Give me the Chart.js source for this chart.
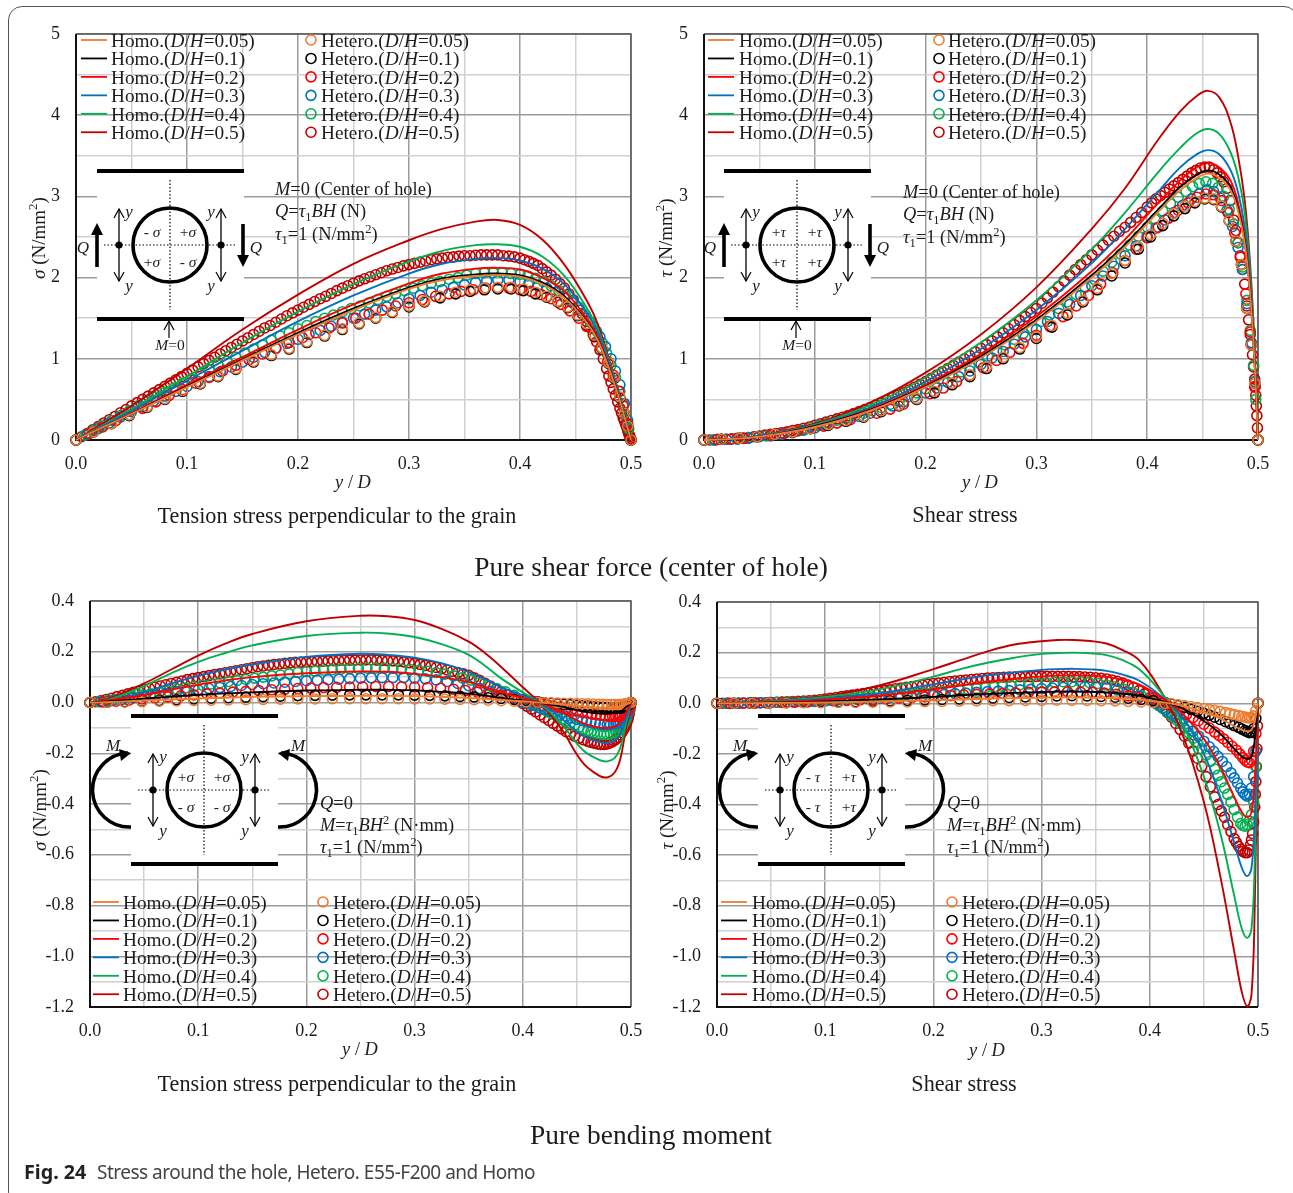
<!DOCTYPE html>
<html>
<head>
<meta charset="utf-8">
<title>Fig. 24</title>
<script src="https://cdn.jsdelivr.net/npm/chart.js@4/dist/chart.umd.js"></script>
<style>
html, body { margin: 0; padding: 0; background: #fff; }
#page { position: relative; width: 1293px; height: 1193px; overflow: hidden; }
#card { position: absolute; left: 8px; top: 6px; width: 1290px; height: 1200px; border: 1.4px solid #555; border-radius: 14px; box-sizing: border-box; }
canvas { position: absolute; }
#marks { position: absolute; left: 0; top: 0; }
.t { position: absolute; white-space: nowrap; font-family: "Liberation Serif", serif; color: #1c1c1c; line-height: 1; transform: translateY(-50%); }
.c { transform: translate(-50%, -50%); }
.r { transform: translate(-50%, -50%) rotate(-90deg); }
.t sub, .t sup { font-size: 68%; line-height: 0; }
</style>
</head>
<body>
<div id="page">
<div id="card"></div>
<canvas id="c1"></canvas>
<canvas id="c2"></canvas>
<canvas id="c3"></canvas>
<canvas id="c4"></canvas>
<svg id="marks" width="1293" height="1193" xmlns="http://www.w3.org/2000/svg"></svg>
</div>
<script>
var ratios = ['0.05', '0.1', '0.2', '0.3', '0.4', '0.5'];
var colors = ['#ED7D31', '#000000', '#FF0000', '#0070C0', '#00B050', '#C00000'];

// y/D stations of the hetero markers, the mesh gets finer with D/H
var xSparse = [0,.016,.032,.048,.064,.08,.096,.112,.128,.144,.16,.176,.192,.208,.224,.24,.255,.27,.285,.3,.314,.328,.342,.355,.368,.38,.392,.403,.414,.424,.434,.443,.452,.46,.467,.474,.48,.485,.49,.494,.497,.5];
var x02 = [0,.012,.024,.036,.048,.06,.072,.084,.096,.108,.12,.132,.144,.156,.168,.18,.192,.204,.216,.228,.24,.252,.264,.276,.288,.3,.312,.324,.336,.347,.358,.369,.38,.39,.4,.41,.419,.428,.437,.445,.453,.46,.467,.473,.479,.484,.489,.493,.497,.5];
var x03 = [0,.01,.02,.03,.04,.05,.06,.07,.08,.09,.1,.11,.12,.13,.14,.15,.16,.17,.18,.19,.2,.21,.22,.23,.24,.25,.26,.27,.28,.29,.3,.31,.32,.33,.34,.35,.36,.37,.38,.39,.4,.408,.416,.424,.432,.44,.447,.454,.46,.466,.472,.477,.482,.486,.49,.494,.497,.5];
var x04 = [0,.008,.016,.024,.032,.04,.048,.056,.064,.072,.08,.088,.096,.104,.112,.12,.128,.136,.144,.152,.16,.168,.176,.184,.192,.2,.208,.216,.224,.232,.24,.248,.256,.264,.272,.28,.288,.296,.304,.312,.32,.328,.336,.344,.352,.36,.368,.376,.384,.392,.4,.407,.414,.421,.428,.435,.441,.447,.453,.459,.464,.469,.474,.478,.482,.486,.49,.493,.496,.498,.5];
var x05 = [0,.005,.01,.015,.02,.025,.03,.035,.04,.045,.05,.055,.06,.065,.07,.075,.08,.085,.09,.095,.1,.105,.11,.115,.12,.125,.13,.135,.14,.145,.15,.155,.16,.165,.17,.175,.18,.185,.19,.195,.2,.205,.21,.215,.22,.225,.23,.235,.24,.245,.25,.255,.26,.265,.27,.275,.28,.285,.29,.295,.3,.305,.31,.315,.32,.325,.33,.335,.34,.345,.35,.355,.36,.365,.37,.375,.38,.385,.39,.395,.4,.404,.408,.412,.416,.42,.424,.428,.432,.436,.44,.444,.448,.452,.456,.46,.463,.466,.469,.472,.475,.478,.48,.482,.484,.486,.488,.49,.4915,.493,.494,.495,.496,.497,.4975,.498,.4985,.499,.4995,.5];
var heteroX = [xSparse, xSparse, x02, x03, x04, x05];
// moment plots: the tails towards y/D=0.5 are read more closely, they stand clear of each other there
var xSparseM = [0,.016,.032,.048,.064,.08,.096,.112,.128,.144,.16,.176,.192,.208,.224,.24,.255,.27,.285,.3,.314,.328,.342,.355,.368,.38,.392,.403,.414,.42,.426,.432,.438,.444,.45,.455,.46,.465,.47,.474,.478,.482,.485,.488,.49,.492,.494,.496,.498,.5];
var x02M = [0,.012,.024,.036,.048,.06,.072,.084,.096,.108,.12,.132,.144,.156,.168,.18,.192,.204,.216,.228,.24,.252,.264,.276,.288,.3,.312,.324,.336,.347,.358,.369,.38,.39,.4,.41,.416,.422,.428,.434,.44,.445,.45,.455,.46,.464,.468,.472,.476,.48,.483,.486,.488,.49,.492,.494,.496,.498,.5];
var x03M = [0,.01,.02,.03,.04,.05,.06,.07,.08,.09,.1,.11,.12,.13,.14,.15,.16,.17,.18,.19,.2,.21,.22,.23,.24,.25,.26,.27,.28,.29,.3,.31,.32,.33,.34,.35,.36,.37,.38,.39,.4,.405,.41,.415,.42,.425,.43,.435,.44,.445,.45,.455,.459,.463,.467,.471,.475,.478,.481,.484,.486,.488,.49,.492,.494,.496,.498,.5];
var x04M = [0,.008,.016,.024,.032,.04,.048,.056,.064,.072,.08,.088,.096,.104,.112,.12,.128,.136,.144,.152,.16,.168,.176,.184,.192,.2,.208,.216,.224,.232,.24,.248,.256,.264,.272,.28,.288,.296,.304,.312,.32,.328,.336,.344,.352,.36,.368,.376,.384,.392,.4,.404,.408,.412,.416,.42,.424,.428,.432,.436,.44,.444,.448,.452,.456,.46,.463,.466,.469,.472,.475,.478,.481,.484,.486,.488,.49,.492,.494,.496,.498,.5];
var heteroXM = [xSparseM, xSparseM, x02M, x03M, x04M, x05];

// --- shear force, sigma ---
var sigQx = [0,.02,.05,.1,.15,.2,.25,.3,.33,.36,.38,.4,.42,.44,.46,.47,.48,.49,.495,.5];
var sigQhomo005 = [0,.13,.32,.65,.98,1.3,1.6,1.86,1.97,2.02,2.03,2.01,1.92,1.75,1.45,1.23,.89,.48,.24,0];
var sigQhomo01 = [0,.13,.32,.66,.99,1.32,1.62,1.88,1.99,2.04,2.05,2.03,1.94,1.77,1.46,1.24,.9,.48,.24,0];
var sigQhomo02 = [0,.13,.33,.68,1.02,1.36,1.67,1.93,2.05,2.11,2.12,2.10,2.0,1.83,1.5,1.27,.92,.49,.25,0];
var sigQhomo03 = [0,.14,.36,.73,1.1,1.46,1.78,2.05,2.17,2.23,2.24,2.21,2.11,1.92,1.57,1.33,.96,.51,.26,0];
var sigQhomo04 = [0,.15,.38,.78,1.2,1.58,1.92,2.2,2.33,2.40,2.41,2.38,2.26,2.02,1.63,1.37,.98,.52,.27,0];
var sigQhomo05 = [0,.17,.42,.88,1.36,1.79,2.17,2.46,2.60,2.69,2.71,2.65,2.47,2.16,1.72,1.43,1.0,.53,.27,0];
var sigQhet005 = [0,.10,.20,.31,.41,.51,.61,.70,.79,.88,.97,1.05,1.13,1.21,1.29,1.37,1.44,1.51,1.58,1.65,1.71,1.77,1.82,1.85,1.87,1.88,1.88,1.86,1.82,1.77,1.71,1.64,1.54,1.43,1.29,1.13,.95,.77,.53,.33,.17,0];
var sigQhet01 = [0,.10,.20,.30,.40,.50,.60,.69,.78,.87,.96,1.04,1.12,1.20,1.28,1.36,1.43,1.50,1.57,1.64,1.70,1.75,1.80,1.83,1.85,1.86,1.86,1.84,1.80,1.76,1.70,1.63,1.53,1.42,1.28,1.12,.94,.76,.52,.33,.17,0];
var sigQhet02 = [0,.08,.16,.24,.31,.39,.47,.55,.62,.70,.77,.85,.92,.99,1.06,1.13,1.20,1.26,1.32,1.38,1.44,1.50,1.55,1.60,1.65,1.69,1.73,1.77,1.80,1.83,1.85,1.87,1.87,1.87,1.85,1.83,1.79,1.74,1.67,1.59,1.50,1.40,1.27,1.14,.97,.80,.60,.42,.20,0];
var sigQhet03 = [0,.07,.14,.21,.28,.35,.41,.48,.54,.60,.66,.72,.78,.84,.90,.96,1.02,1.08,1.13,1.19,1.24,1.30,1.35,1.40,1.45,1.50,1.55,1.60,1.64,1.69,1.74,1.78,1.82,1.85,1.88,1.91,1.94,1.96,1.97,1.97,1.95,1.93,1.90,1.87,1.82,1.76,1.69,1.60,1.50,1.40,1.27,1.15,1.00,.85,.68,.45,.24,0];
var sigQhet04 = [0,.06,.12,.18,.24,.30,.36,.42,.47,.53,.59,.64,.70,.75,.81,.86,.92,.97,1.02,1.07,1.12,1.17,1.23,1.28,1.32,1.37,1.41,1.46,1.50,1.54,1.58,1.62,1.65,1.69,1.73,1.77,1.80,1.84,1.87,1.90,1.93,1.95,1.98,2.00,2.03,2.05,2.06,2.06,2.06,2.05,2.04,2.02,1.99,1.95,1.90,1.84,1.78,1.71,1.63,1.54,1.45,1.34,1.20,1.07,.92,.77,.60,.44,.28,.14,0];
var sigQhet05 = [0,.04,.08,.125,.165,.21,.25,.29,.335,.375,.42,.46,.50,.54,.58,.62,.66,.70,.74,.78,.82,.86,.90,.94,.98,1.02,1.06,1.10,1.14,1.18,1.22,1.26,1.30,1.34,1.38,1.41,1.45,1.49,1.53,1.565,1.60,1.635,1.67,1.705,1.74,1.77,1.805,1.84,1.87,1.90,1.93,1.96,1.985,2.01,2.035,2.06,2.085,2.105,2.125,2.145,2.16,2.175,2.19,2.205,2.22,2.23,2.24,2.25,2.255,2.265,2.27,2.27,2.275,2.28,2.28,2.28,2.28,2.27,2.265,2.255,2.24,2.22,2.20,2.175,2.15,2.11,2.07,2.03,1.98,1.925,1.87,1.80,1.725,1.64,1.555,1.46,1.385,1.30,1.21,1.11,1.0,.88,.79,.71,.63,.55,.47,.39,.33,.27,.24,.20,.16,.12,.10,.08,.06,.04,.02,0];

// --- shear force, tau ---
var tauQx = [0,.02,.05,.1,.15,.2,.25,.3,.35,.38,.41,.43,.445,.455,.465,.475,.482,.488,.493,.497,.5];
var tauQhomo005 = [0,.01,.04,.16,.36,.65,1.01,1.46,2.0,2.38,2.81,3.08,3.23,3.28,3.23,3.08,2.82,2.42,1.78,.92,0];
var tauQhomo01 = [0,.01,.04,.17,.37,.66,1.03,1.48,2.03,2.41,2.84,3.12,3.27,3.32,3.27,3.12,2.85,2.45,1.8,.93,0];
var tauQhomo02 = [0,.01,.04,.17,.38,.68,1.06,1.52,2.08,2.47,2.92,3.2,3.36,3.41,3.36,3.2,2.92,2.5,1.85,.95,0];
var tauQhomo03 = [0,.01,.05,.18,.4,.72,1.12,1.6,2.18,2.6,3.06,3.36,3.52,3.57,3.52,3.33,3.05,2.62,1.95,1.0,0];
var tauQhomo04 = [0,.01,.05,.19,.43,.77,1.2,1.72,2.35,2.8,3.3,3.6,3.78,3.83,3.77,3.55,3.25,2.8,2.05,1.05,0];
var tauQhomo05 = [0,.01,.05,.2,.46,.83,1.3,1.88,2.6,3.1,3.7,4.05,4.24,4.30,4.22,3.92,3.5,2.95,2.15,1.1,0];
var tauQhet005 = [0,.01,.02,.04,.07,.10,.14,.19,.24,.29,.36,.43,.51,.60,.70,.80,.90,1.02,1.14,1.27,1.41,1.56,1.72,1.87,2.05,2.21,2.38,2.53,2.67,2.79,2.88,2.94,2.98,2.97,2.88,2.70,2.45,2.16,1.62,1.17,.70,0];
var tauQhet01 = [0,.01,.02,.04,.07,.10,.14,.18,.23,.28,.35,.42,.50,.58,.68,.78,.88,1.0,1.12,1.25,1.39,1.54,1.70,1.85,2.02,2.18,2.35,2.50,2.64,2.76,2.85,2.92,2.97,2.96,2.87,2.70,2.45,2.16,1.62,1.17,.70,0];
var tauQhet02 = [0,.01,.01,.02,.04,.06,.08,.11,.14,.17,.21,.25,.29,.33,.38,.44,.50,.57,.64,.72,.80,.89,.98,1.08,1.19,1.29,1.40,1.52,1.65,1.78,1.92,2.06,2.21,2.35,2.49,2.62,2.73,2.83,2.92,2.99,3.03,3.02,2.95,2.80,2.55,2.25,1.80,1.33,.65,0];
var tauQhet03 = [0,0,.01,.01,.02,.04,.05,.07,.09,.12,.15,.18,.21,.25,.29,.33,.37,.42,.47,.53,.58,.64,.71,.78,.85,.93,1.01,1.09,1.18,1.27,1.36,1.46,1.56,1.67,1.78,1.90,2.02,2.14,2.27,2.39,2.51,2.61,2.71,2.80,2.89,2.97,3.03,3.08,3.06,2.98,2.83,2.63,2.37,2.10,1.68,1.20,.72,0];
var tauQhet04 = [0,0,.01,.01,.02,.03,.04,.05,.07,.08,.10,.12,.15,.18,.21,.24,.27,.30,.33,.36,.40,.44,.48,.53,.58,.63,.68,.73,.78,.84,.90,.96,1.03,1.10,1.17,1.24,1.31,1.38,1.46,1.54,1.62,1.70,1.79,1.88,1.98,2.08,2.19,2.29,2.40,2.51,2.62,2.72,2.82,2.91,2.99,3.06,3.12,3.16,3.18,3.16,3.11,3.0,2.84,2.66,2.43,2.13,1.72,1.35,.92,.50,0];
var tauQhet05 = [0,0,0,.01,.01,.015,.02,.025,.03,.04,.05,.06,.07,.08,.09,.10,.115,.13,.145,.16,.18,.20,.22,.24,.26,.28,.30,.325,.35,.375,.40,.43,.46,.49,.52,.55,.58,.615,.65,.685,.72,.76,.80,.84,.88,.92,.96,1.00,1.04,1.085,1.13,1.175,1.22,1.27,1.32,1.37,1.42,1.47,1.52,1.57,1.62,1.685,1.75,1.82,1.89,1.96,2.03,2.10,2.16,2.22,2.28,2.34,2.40,2.46,2.51,2.57,2.62,2.68,2.74,2.80,2.87,2.92,2.97,3.01,3.05,3.09,3.13,3.17,3.21,3.25,3.29,3.32,3.35,3.36,3.36,3.33,3.29,3.24,3.18,3.10,2.95,2.71,2.58,2.43,2.27,2.10,1.92,1.65,1.48,1.30,1.18,1.05,.90,.75,.66,.55,.42,.30,.15,0];

// --- bending moment, sigma ---
var sigMx = [0,.02,.05,.075,.1,.125,.15,.2,.25,.275,.3,.325,.35,.365,.38,.4,.415,.435,.455,.47,.478,.485,.49,.495,.5];
var sigMhomo005 = [0,.002,.008,.012,.016,.019,.022,.025,.026,.026,.025,.022,.018,.014,.01,.005,0,-.007,-.016,-.02,-.02,-.019,-.016,-.009,0];
var sigMhomo01 = [0,.005,.015,.023,.03,.036,.04,.047,.05,.05,.048,.042,.035,.027,.018,.008,0,-.015,-.035,-.043,-.045,-.042,-.036,-.02,0];
var sigMhomo02 = [0,.01,.03,.05,.07,.087,.10,.115,.122,.121,.113,.1,.08,.06,.04,.018,0,-.035,-.08,-.098,-.10,-.095,-.08,-.045,0];
var sigMhomo03 = [0,.01,.04,.075,.105,.13,.15,.18,.192,.188,.177,.155,.12,.092,.06,.028,0,-.06,-.13,-.155,-.16,-.15,-.125,-.07,0];
var sigMhomo04 = [0,.015,.065,.115,.16,.195,.225,.262,.275,.272,.258,.23,.188,.145,.095,.04,0,-.08,-.185,-.225,-.232,-.218,-.18,-.09,0];
var sigMhomo05 = [0,.02,.075,.13,.185,.232,.27,.32,.342,.34,.325,.29,.24,.195,.14,.06,0,-.10,-.235,-.287,-.295,-.275,-.225,-.11,0];
var sigMhet005 = [0,0,.001,.003,.005,.006,.008,.009,.01,.011,.012,.013,.014,.014,.015,.015,.015,.015,.015,.014,.014,.013,.012,.011,.009,.007,.005,.003,.001,-.001,-.001,-.002,-.003,-.003,-.004,-.005,-.005,-.006,-.007,-.007,-.008,-.008,-.008,-.008,-.008,-.007,-.006,-.005,-.003,0];
var sigMhet01 = [0,.001,.003,.005,.008,.011,.014,.017,.019,.021,.023,.025,.027,.028,.029,.03,.03,.03,.03,.029,.028,.026,.024,.022,.019,.016,.012,.008,.003,-.001,-.003,-.005,-.007,-.009,-.011,-.013,-.014,-.016,-.018,-.019,-.02,-.021,-.022,-.022,-.021,-.02,-.018,-.014,-.008,0];
var sigMhet02 = [0,.002,.005,.009,.014,.018,.022,.026,.03,.034,.037,.041,.044,.047,.05,.052,.055,.057,.059,.06,.061,.062,.063,.063,.062,.061,.059,.056,.052,.047,.041,.034,.027,.02,.012,.004,-.001,-.007,-.013,-.019,-.025,-.03,-.034,-.038,-.042,-.045,-.048,-.05,-.052,-.054,-.055,-.055,-.054,-.052,-.049,-.044,-.036,-.022,0];
var sigMhet03 = [0,.003,.007,.012,.018,.024,.03,.035,.041,.046,.05,.055,.059,.063,.067,.071,.074,.077,.08,.083,.086,.088,.09,.092,.094,.096,.097,.098,.098,.098,.096,.093,.089,.083,.075,.066,.055,.043,.03,.015,.001,-.006,-.012,-.02,-.027,-.034,-.04,-.047,-.054,-.061,-.067,-.072,-.076,-.079,-.082,-.085,-.087,-.087,-.087,-.085,-.083,-.08,-.076,-.071,-.063,-.052,-.033,0];
var sigMhet04 = [0,.003,.007,.012,.017,.023,.029,.034,.04,.046,.052,.057,.063,.068,.073,.078,.083,.087,.091,.096,.10,.105,.109,.113,.118,.122,.124,.127,.129,.131,.133,.134,.135,.135,.135,.134,.132,.13,.127,.123,.118,.112,.105,.097,.088,.078,.067,.055,.042,.028,.012,.004,-.004,-.012,-.021,-.029,-.038,-.046,-.055,-.064,-.073,-.081,-.089,-.097,-.104,-.11,-.115,-.119,-.122,-.125,-.126,-.126,-.124,-.12,-.116,-.11,-.102,-.092,-.078,-.062,-.036,0];
var sigMhet05 = [0,.003,.007,.012,.017,.023,.028,.034,.04,.045,.05,.055,.06,.065,.07,.075,.08,.085,.09,.094,.098,.102,.106,.11,.113,.117,.121,.125,.129,.133,.137,.141,.144,.147,.15,.152,.154,.156,.158,.159,.16,.161,.162,.163,.164,.165,.166,.166,.167,.167,.168,.168,.168,.167,.166,.165,.164,.162,.16,.157,.154,.15,.146,.142,.138,.133,.128,.123,.118,.113,.107,.097,.087,.076,.065,.053,.042,.031,.02,.008,-.004,-.015,-.026,-.037,-.049,-.06,-.071,-.082,-.093,-.104,-.115,-.125,-.133,-.14,-.147,-.153,-.157,-.16,-.163,-.165,-.165,-.163,-.16,-.156,-.151,-.145,-.137,-.127,-.118,-.108,-.1,-.09,-.08,-.068,-.06,-.05,-.04,-.028,-.014,0];

// --- bending moment, tau ---
var tauMx = [0,.05,.1,.15,.2,.225,.25,.275,.3,.315,.33,.345,.36,.375,.39,.41,.43,.45,.465,.478,.485,.49,.494,.497,.5];
var tauMhomo005 = [0,.001,.003,.007,.012,.015,.018,.02,.022,.023,.023,.022,.021,.019,.015,.005,-.01,-.035,-.06,-.09,-.105,-.11,-.105,-.07,0];
var tauMhomo01 = [0,.002,.007,.015,.025,.031,.037,.041,.044,.046,.046,.045,.043,.038,.03,.01,-.02,-.07,-.12,-.18,-.21,-.22,-.21,-.145,0];
var tauMhomo02 = [0,.004,.014,.03,.055,.07,.085,.097,.106,.109,.11,.108,.104,.092,.075,.025,-.04,-.14,-.25,-.37,-.43,-.45,-.43,-.3,0];
var tauMhomo03 = [0,.005,.018,.04,.075,.093,.11,.122,.132,.135,.136,.134,.128,.113,.09,.03,-.055,-.2,-.37,-.55,-.65,-.683,-.65,-.45,0];
var tauMhomo04 = [0,.008,.025,.055,.105,.135,.16,.18,.195,.198,.2,.197,.19,.17,.135,.045,-.08,-.29,-.51,-.76,-.89,-.927,-.89,-.62,0];
var tauMhomo05 = [0,.01,.028,.07,.135,.17,.205,.232,.245,.25,.25,.246,.236,.21,.17,.05,-.12,-.39,-.68,-.98,-1.14,-1.197,-1.15,-.8,0];
var tauMhet005 = [0,0,0,.001,.001,.002,.002,.003,.003,.004,.005,.005,.006,.007,.008,.009,.01,.01,.011,.011,.012,.012,.011,.01,.009,.007,.005,.003,0,-.002,-.006,-.009,-.013,-.017,-.021,-.025,-.028,-.032,-.037,-.041,-.045,-.049,-.052,-.055,-.057,-.058,-.056,-.05,-.03,0];
var tauMhet01 = [0,0,.001,.001,.002,.003,.004,.005,.006,.008,.009,.011,.013,.015,.017,.019,.021,.023,.025,.027,.029,.03,.029,.027,.024,.02,.015,.01,.003,-.003,-.009,-.016,-.024,-.032,-.04,-.047,-.055,-.064,-.073,-.08,-.088,-.095,-.102,-.108,-.112,-.116,-.114,-.1,-.06,0];
var tauMhet02 = [0,0,0,.001,.002,.003,.004,.005,.007,.009,.011,.013,.015,.017,.02,.022,.025,.028,.03,.033,.035,.037,.039,.041,.043,.044,.045,.045,.044,.043,.04,.035,.029,.022,.014,.006,-.006,-.018,-.03,-.044,-.056,-.069,-.083,-.098,-.114,-.127,-.14,-.155,-.17,-.185,-.2,-.215,-.225,-.232,-.235,-.225,-.19,-.12,0];
var tauMhet03 = [0,0,.001,.001,.002,.003,.004,.005,.006,.007,.009,.011,.013,.015,.017,.019,.022,.024,.027,.03,.032,.035,.038,.04,.043,.046,.048,.05,.053,.055,.058,.06,.062,.064,.065,.064,.06,.053,.042,.028,.012,0,-.012,-.026,-.041,-.057,-.074,-.092,-.11,-.13,-.15,-.172,-.19,-.21,-.23,-.25,-.275,-.295,-.315,-.335,-.35,-.36,-.367,-.36,-.335,-.29,-.19,0];
var tauMhet04 = [0,0,0,.001,.001,.002,.003,.004,.005,.006,.007,.008,.01,.012,.014,.016,.018,.02,.023,.025,.028,.031,.034,.037,.04,.043,.046,.049,.052,.055,.058,.061,.064,.067,.07,.073,.076,.079,.081,.083,.085,.085,.084,.082,.078,.072,.065,.055,.043,.03,.014,.004,-.008,-.02,-.033,-.048,-.064,-.08,-.098,-.117,-.138,-.158,-.18,-.205,-.23,-.26,-.285,-.31,-.335,-.36,-.39,-.42,-.45,-.475,-.483,-.486,-.48,-.465,-.44,-.39,-.25,0];
var tauMhet05 = [0,0,0,0,0,.001,.001,.001,.002,.002,.003,.004,.005,.006,.007,.008,.009,.01,.012,.014,.017,.02,.023,.026,.029,.032,.035,.038,.041,.044,.047,.05,.053,.057,.06,.063,.066,.069,.072,.075,.078,.08,.083,.086,.088,.09,.092,.094,.096,.098,.1,.101,.102,.103,.104,.104,.105,.105,.105,.106,.106,.106,.106,.106,.106,.106,.105,.105,.104,.103,.101,.099,.096,.092,.087,.08,.072,.062,.05,.037,.022,.012,0,-.018,-.036,-.055,-.08,-.104,-.13,-.158,-.188,-.217,-.25,-.29,-.33,-.37,-.4,-.425,-.45,-.48,-.507,-.535,-.55,-.565,-.577,-.585,-.59,-.59,-.58,-.56,-.54,-.515,-.47,-.41,-.36,-.31,-.25,-.18,-.09,0];

var page = document.getElementById('page');
var svg = document.getElementById('marks');

function pts(xs, ys) {
  return xs.map(function(x, i) { return {x: x, y: ys[i]}; });
}

function makeChart(id, box, yMin, yMax, yStep, yLabelEvery, lineX, homo, markerX, hetero) {
  var datasets = [];
  homo.forEach(function(ys, i) {
    datasets.push({data: pts(lineX, ys), showLine: true, borderColor: colors[i], borderWidth: 1.9,
      pointRadius: 0, tension: 0.4, clip: false});
  });
  hetero.forEach(function(ys, i) {
    datasets.push({data: pts(markerX[i], ys), showLine: false, borderColor: colors[i], backgroundColor: 'rgba(0,0,0,0)',
      pointRadius: 5, pointBorderWidth: 1.6, clip: false});
  });
  var cv = document.getElementById(id);
  // padT has to beat the y scale's own top padding (half a label + tick padding)
  var padL = 70, padR = 30, padT = 30, padB = 50;
  cv.width = box.right - box.left + padL + padR;
  cv.height = box.bottom - box.top + padT + padB;
  cv.style.left = (box.left - padL) + 'px';
  cv.style.top = (box.top - padT) + 'px';
  var font = {family: '"Liberation Serif", serif', size: 18};
  return new Chart(cv.getContext('2d'), {
    type: 'scatter',
    data: {datasets: datasets},
    options: {
      responsive: false,
      animation: false,
      events: [],
      layout: {autoPadding: false, padding: {left: 0, right: padR, top: padT, bottom: 0}},
      plugins: {legend: {display: false}, tooltip: {enabled: false}},
      scales: {
        x: {
          type: 'linear', min: 0, max: 0.5,
          afterFit: function(s) { s.height = padB; },
          border: {display: false},
          grid: {drawTicks: false, lineWidth: 1.5, color: function(c) {
            return Math.round(c.tick.value * 100) % 10 === 0 ? '#9c9c9c' : '#d0d0d0';
          }},
          ticks: {stepSize: 0.05, autoSkip: false, maxRotation: 0, padding: 13, color: '#1c1c1c', font: font,
            callback: function(v) { return Math.round(v * 100) % 10 === 0 ? v.toFixed(1) : ''; }}
        },
        y: {
          min: yMin, max: yMax,
          afterFit: function(s) { s.width = padL; },
          border: {display: false},
          grid: {drawTicks: false, lineWidth: 1.5, color: function(c) {
            var k = Math.round(c.tick.value / yStep);
            return k % 2 === 0 ? '#9c9c9c' : '#d0d0d0';
          }},
          ticks: {stepSize: yStep, autoSkip: false, padding: 16, color: '#1c1c1c', font: font,
            callback: function(v) {
              if (Math.round(v / yStep) % 2 !== 0) return '';
              return yLabelEvery ? (Math.round(v * 10) / 10).toFixed(1) : String(Math.round(v));
            }}
        }
      }
    },
    plugins: [{
      id: 'frame',
      beforeDatasetsDraw: function(ch) {
        var a = ch.chartArea, c = ch.ctx;
        c.save();
        c.strokeStyle = '#555'; c.lineWidth = 1.5;
        c.beginPath();
        c.moveTo(a.left, a.top); c.lineTo(a.right, a.top); c.lineTo(a.right, a.bottom);
        c.stroke();
        c.strokeStyle = '#111'; c.lineWidth = 2;
        c.beginPath();
        c.moveTo(a.left, a.top); c.lineTo(a.left, a.bottom); c.lineTo(a.right, a.bottom);
        c.stroke();
        c.restore();
      }
    }]
  });
}

makeChart('c1', {left: 76, right: 631, top: 34, bottom: 440}, 0, 5, 0.5, false, sigQx,
  [sigQhomo005, sigQhomo01, sigQhomo02, sigQhomo03, sigQhomo04, sigQhomo05], heteroX,
  [sigQhet005, sigQhet01, sigQhet02, sigQhet03, sigQhet04, sigQhet05]);
makeChart('c2', {left: 704, right: 1258, top: 34, bottom: 440}, 0, 5, 0.5, false, tauQx,
  [tauQhomo005, tauQhomo01, tauQhomo02, tauQhomo03, tauQhomo04, tauQhomo05], heteroX,
  [tauQhet005, tauQhet01, tauQhet02, tauQhet03, tauQhet04, tauQhet05]);
makeChart('c3', {left: 90, right: 631, top: 601, bottom: 1007}, -1.2, 0.4, 0.1, true, sigMx,
  [sigMhomo005, sigMhomo01, sigMhomo02, sigMhomo03, sigMhomo04, sigMhomo05], heteroXM,
  [sigMhet005, sigMhet01, sigMhet02, sigMhet03, sigMhet04, sigMhet05]);
makeChart('c4', {left: 717, right: 1258, top: 602, bottom: 1007}, -1.2, 0.4, 0.1, true, tauMx,
  [tauMhomo005, tauMhomo01, tauMhomo02, tauMhomo03, tauMhomo04, tauMhomo05], heteroXM,
  [tauMhet005, tauMhet01, tauMhet02, tauMhet03, tauMhet04, tauMhet05]);

// text and drawing helpers
function text(x, y, html, size, cls) {
  var d = document.createElement('div');
  d.className = 't ' + (cls || '');
  d.style.left = x + 'px';
  d.style.top = y + 'px';
  d.style.fontSize = size + 'px';
  d.innerHTML = html;
  page.appendChild(d);
  return d;
}
function el(name, attrs) {
  var e = document.createElementNS('http://www.w3.org/2000/svg', name);
  for (var k in attrs) e.setAttribute(k, attrs[k]);
  svg.appendChild(e);
  return e;
}
function line(x1, y1, x2, y2, w, col, dash) {
  var a = {x1: x1, y1: y1, x2: x2, y2: y2, stroke: col || '#000', 'stroke-width': w};
  if (dash) a['stroke-dasharray'] = dash;
  return el('line', a);
}
function head(x, y, dir) {
  el('polyline', {points: (x - 5) + ',' + (y - dir * 9) + ' ' + x + ',' + y + ' ' + (x + 5) + ',' + (y - dir * 9),
    fill: 'none', stroke: '#000', 'stroke-width': 1.2});
}

function legend(rowTop, swatchX, textX, circX, hetTextX) {
  ratios.forEach(function(r, i) {
    var y = rowTop + i * 18.45;
    line(swatchX, y, swatchX + 26, y, 1.8, colors[i]);
    el('circle', {cx: circX, cy: y, r: 5, fill: 'none', stroke: colors[i], 'stroke-width': 1.6});
    text(textX, y + 1, 'Homo.(<i>D</i>/<i>H</i>=' + r + ')', 19.3);
    text(hetTextX, y + 1, 'Hetero.(<i>D</i>/<i>H</i>=' + r + ')', 19.3);
  });
}
legend(40, 81, 111, 311, 321);
legend(40, 708, 739, 939, 948);
legend(902, 93, 123, 323, 333);
legend(902, 721, 752, 952, 962);

// hole sketch, (cx, cy) is the centre of the hole
function sketch(cx, cy, sym, signs) {
  el('rect', {x: cx - 73, y: cy - 74, width: 147, height: 150, fill: '#fff'});
  line(cx - 73, cy - 74, cx + 74, cy - 74, 4);
  line(cx - 73, cy + 74, cx + 74, cy + 74, 4);
  line(cx, cy - 65, cx, cy + 65, 1.2, '#000', '1.5 2');
  line(cx - 66, cy, cx + 65, cy, 1.2, '#000', '1.5 2');
  el('circle', {cx: cx, cy: cy, r: 37, fill: 'none', stroke: '#000', 'stroke-width': 3.6});
  [-51, 51].forEach(function(dx) {
    el('circle', {cx: cx + dx, cy: cy, r: 3.6, fill: '#000'});
    line(cx + dx, cy - 36, cx + dx, cy + 36, 1.3);
    head(cx + dx, cy - 36, -1);
    head(cx + dx, cy + 36, 1);
  });
  [[-41, -34], [41, -34], [-41, 40], [41, 40]].forEach(function(p) {
    text(cx + p[0], cy + p[1], '<i>y</i>', 17, 'c');
  });
  text(cx - 18, cy - 13, signs[0] + '<i>' + sym + '</i>', 15.5, 'c');
  text(cx + 18, cy - 13, signs[1] + '<i>' + sym + '</i>', 15.5, 'c');
  text(cx - 18, cy + 17, signs[2] + '<i>' + sym + '</i>', 15.5, 'c');
  text(cx + 18, cy + 17, signs[3] + '<i>' + sym + '</i>', 15.5, 'c');
}
function shearArrows(cx, cy) {
  line(cx - 73, cy + 22, cx - 73, cy - 12, 3.6);
  el('polygon', {points: (cx - 79) + ',' + (cy - 10) + ' ' + (cx - 73) + ',' + (cy - 22) + ' ' + (cx - 67) + ',' + (cy - 10), fill: '#000'});
  line(cx + 73, cy - 21, cx + 73, cy + 12, 3.6);
  el('polygon', {points: (cx + 67) + ',' + (cy + 10) + ' ' + (cx + 73) + ',' + (cy + 22) + ' ' + (cx + 79) + ',' + (cy + 10), fill: '#000'});
  text(cx - 87, cy + 2, '<i>Q</i>', 17, 'c');
  text(cx + 86, cy + 2, '<i>Q</i>', 17, 'c');
  line(cx - 1, cy + 77, cx - 1, cy + 93, 1.2);
  head(cx - 1, cy + 76, -1);
  text(cx, cy + 100, '<i>M</i>=0', 15.5, 'c');
}
function momentArrows(cx, cy) {
  el('path', {d: 'M' + (cx - 73) + ' ' + (cy + 37) + ' A37 37 0 0 1 ' + (cx - 76) + ' ' + (cy - 37), fill: 'none', stroke: '#000', 'stroke-width': 3.6});
  el('polygon', {points: (cx - 73) + ',' + (cy - 37) + ' ' + (cx - 85) + ',' + (cy - 41) + ' ' + (cx - 83) + ',' + (cy - 29), fill: '#000'});
  el('path', {d: 'M' + (cx + 74) + ' ' + (cy + 37) + ' A37 37 0 0 0 ' + (cx + 77) + ' ' + (cy - 37), fill: 'none', stroke: '#000', 'stroke-width': 3.6});
  el('polygon', {points: (cx + 74) + ',' + (cy - 37) + ' ' + (cx + 86) + ',' + (cy - 41) + ' ' + (cx + 84) + ',' + (cy - 29), fill: '#000'});
  text(cx - 91, cy - 45, '<i>M</i>', 17, 'c');
  text(cx + 94, cy - 45, '<i>M</i>', 17, 'c');
}
sketch(170, 245, 'σ', ['- ', '+', '+', '- ']);
shearArrows(170, 245);
sketch(797, 245, 'τ', ['+', '+', '+', '+']);
shearArrows(797, 245);
sketch(204, 790, 'σ', ['+', '+', '- ', '- ']);
momentArrows(204, 790);
sketch(831, 790, 'τ', ['- ', '+', '- ', '+']);
momentArrows(831, 790);

function noteQ(x, y) {
  text(x, y, '<i>M</i>=0 (Center of hole)', 18.4);
  text(x, y + 22, '<i>Q</i>=<i>τ</i><sub>1</sub><i>BH</i> (N)', 18.4);
  text(x, y + 45, '<i>τ</i><sub>1</sub>=1 (N/mm<sup>2</sup>)', 18.4);
}
function noteM(x, y) {
  text(x, y, '<i>Q</i>=0', 18.4);
  text(x, y + 22, '<i>M</i>=<i>τ</i><sub>1</sub><i>BH</i><sup>2</sup> (N·mm)', 18.4);
  text(x, y + 44, '<i>τ</i><sub>1</sub>=1 (N/mm<sup>2</sup>)', 18.4);
}
noteQ(275, 189);
noteQ(903, 192);
noteM(320, 803);
noteM(947, 803);

text(38, 238, '<i>σ</i> (N/mm<sup>2</sup>)', 19, 'r');
text(665, 238, '<i>τ</i> (N/mm<sup>2</sup>)', 19, 'r');
text(39, 810, '<i>σ</i> (N/mm<sup>2</sup>)', 19, 'r');
text(666, 810, '<i>τ</i> (N/mm<sup>2</sup>)', 19, 'r');

text(353, 482, '<i>y</i> / <i>D</i>', 18.4, 'c');
text(980, 482, '<i>y</i> / <i>D</i>', 18.4, 'c');
text(360, 1049, '<i>y</i> / <i>D</i>', 18.4, 'c');
text(987, 1050, '<i>y</i> / <i>D</i>', 18.4, 'c');

text(337, 516, 'Tension stress perpendicular to the grain', 22.2, 'c');
text(965, 515, 'Shear stress', 22.2, 'c');
text(337, 1084, 'Tension stress perpendicular to the grain', 22.2, 'c');
text(964, 1084, 'Shear stress', 22.2, 'c');
text(651, 568, 'Pure shear force (center of hole)', 27.4, 'c');
text(651, 1136, 'Pure bending moment', 27.4, 'c');

var cap = text(24, 1172, '<b>Fig. 24</b>', 19.7);
cap.style.fontFamily = '"Noto Sans", sans-serif';
cap.style.color = '#222';
var cap2 = text(97, 1172, 'Stress around the hole, Hetero. E55-F200 and Homo', 19);
cap2.style.fontFamily = '"Noto Sans", sans-serif';
cap2.style.color = '#444';
cap2.style.letterSpacing = '-0.5px';
</script>
</body>
</html>
